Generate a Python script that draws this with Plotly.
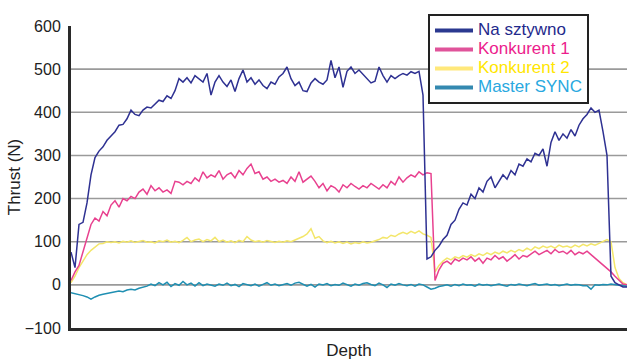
import plotly.graph_objects as go

# Depth index (sample positions along the bore)
DEPTH = list(range(0, 557, 4))

SERIES_NAMES = ["Na sztywno", "Konkurent 1", "Konkurent 2", "Master SYNC"]

NA_SZTYWNO = [
    76, 40, 140, 145, 190, 255, 295, 310, 320, 335,
    345, 355, 370, 372, 385, 405, 395, 392, 405, 412,
    410, 420, 428, 425, 438, 432, 450, 478, 470, 480,
    468, 485, 478, 470, 490, 440, 470, 485, 470, 460,
    475, 448, 478, 498, 470, 480, 465, 475, 462, 455,
    470, 465, 482, 490, 505, 478, 462, 470, 450, 448,
    468, 478, 470, 465, 475, 520, 480, 505, 458, 495,
    505, 490, 498, 488, 480, 468, 472, 505, 485, 470,
    485, 478, 485, 490, 486, 494, 490, 495, 440, 60,
    65, 80, 90, 105, 115, 140, 150, 175, 190, 185,
    210, 200, 225, 215, 240, 250, 225, 240, 255, 245,
    265, 255, 280, 275, 292, 285, 305, 300, 315, 275,
    330, 355, 335, 350, 340, 360, 345, 370, 385, 395,
    410, 400, 405, 355, 300, 20, 5, 0, -5, -5,
]

KONKURENT_1 = [
    10, 30, 45, 75, 108, 140, 155, 148, 170, 160,
    185, 195, 180, 200, 195, 205, 200, 215, 222, 210,
    230, 218, 225, 215, 220, 212, 240, 238, 232, 240,
    235, 248, 240, 262, 248, 255, 250, 265, 245, 255,
    260, 248, 265, 255, 270, 280, 258, 262, 245, 250,
    240, 245, 238, 242, 235, 250, 240, 262, 238, 245,
    252, 240, 225, 235, 218, 230, 225, 215, 232, 225,
    235, 228, 222, 230, 225, 235, 228, 222, 232, 225,
    240, 232, 250, 238, 248, 255, 250, 262, 255, 260,
    258, 10, 35, 50, 55, 48, 60, 55, 62, 58,
    65, 55, 62, 50, 62, 58, 68, 60, 65, 55,
    62, 70, 60, 68, 65, 72, 78, 70, 75, 80,
    72, 82, 75, 78, 72, 80, 70, 76, 72, 78,
    70, 62, 55, 45, 38, 30, 20, 10, 2, 0,
]

KONKURENT_2 = [
    5, 20, 40, 55, 70, 80, 88, 95, 96, 100,
    98, 100, 97, 101, 99, 102, 98, 100, 103, 99,
    100, 97, 102, 100, 104, 99, 101, 98, 103, 110,
    100, 104, 106, 100, 105, 102, 110, 100, 104, 99,
    102, 98, 103, 100, 112, 104, 100, 102, 99, 103,
    100, 98, 101, 99, 102, 100, 104, 108, 112, 118,
    130, 108, 112, 102, 98, 101, 97, 100, 96, 99,
    95, 98, 96, 100, 97, 99, 102, 105, 110, 108,
    115, 112, 118, 122, 118, 124, 120, 125, 118, 115,
    110, 30, 45, 55, 62, 58, 65, 62, 68, 64,
    70, 66, 72, 68, 74, 70, 76, 72, 78, 74,
    80, 76, 82, 78, 85, 80, 88, 84, 90, 86,
    90, 85, 92, 88, 90, 86, 92, 88, 94, 90,
    95, 92, 96, 100, 105, 100, 40, 15, 5, 0,
]

MASTER_SYNC = [
    -18, -20, -22, -25, -28, -33, -28, -24, -22, -20,
    -18, -17, -14, -16, -12, -10, -12, -8, -6, -3,
    2, -2, 5, 0, 6, -4, 3, -1, 8, 0,
    4, -3, 5, -2, 2, 0, -3, 2, -1, 4,
    -2, 1, -4, 3, 0, -2, 2, -3, 1, 5,
    -1, 2, -2, 0, 3, -1, 4, 6, 2, -3,
    1, -5, 2, 0, 3, -2, 1, -1, 4, 0,
    -3, 2, -1, 3, 5, 1, -2, 4, 0, -6,
    2, -1, 3, 0, -2, 1, -3, 2, 0, -5,
    -10, -8, -4, -2, 0, -3, 1, -2, 2, -1,
    0, -3, 2, -1, 1, -2, 0, 2, -1, -3,
    1, -1, 2, 0, -2, 1, 3, -1, 0, 2,
    -1, 1, -2, 0, 2, -1, 1, 0, -2, -2,
    -10, 0, -1, 1, 0, 2, 0, -1, -2, -3,
]

Y_TICKS = [-100, 0, 100, 200, 300, 400, 500, 600]
GRID_VALUES = [0, 100, 200, 300, 400, 500]

LINE_COLORS = {
    "Na sztywno": "#2E3192",
    "Konkurent 1": "#E8418F",
    "Konkurent 2": "#F3E66A",
    "Master SYNC": "#1F8FB2",
}
TEXT_COLORS = {
    "Na sztywno": "#1F2A8C",
    "Konkurent 1": "#EC1C8C",
    "Konkurent 2": "#FFE600",
    "Master SYNC": "#29A8E0",
}
LEGEND_SWATCH = {
    "Na sztywno": "#2B3990",
    "Konkurent 1": "#E0539A",
    "Konkurent 2": "#FFE87A",
    "Master SYNC": "#3489B0",
}

values = {
    "Na sztywno": NA_SZTYWNO,
    "Konkurent 1": KONKURENT_1,
    "Konkurent 2": KONKURENT_2,
    "Master SYNC": MASTER_SYNC,
}

FONT = "Arial, Liberation Sans, sans-serif"
W, H = 627, 360
M_L, M_B = 71, 32
PLOT_TOP_PX = 26
PAPER_H = H - M_B  # top margin is zero; the y domain leaves room above

fig = go.Figure()

# legend entries (thick swatches, coloured text)
for name in SERIES_NAMES:
    fig.add_trace(go.Scatter(
        x=[None], y=[None], mode="lines",
        name=f"<span style='color:{TEXT_COLORS[name]};font-size:17px'>{name}</span>",
        legendgroup=name,
        line=dict(color=LEGEND_SWATCH[name], width=4),
        hoverinfo="skip",
    ))

# data lines (drawn back to front)
for name in ["Konkurent 2", "Konkurent 1", "Master SYNC", "Na sztywno"]:
    fig.add_trace(go.Scatter(
        x=DEPTH, y=values[name], mode="lines", name=name,
        legendgroup=name, showlegend=False,
        line=dict(color=LINE_COLORS[name], width=1.5),
    ))

shapes = []
for g in GRID_VALUES:
    shapes.append(dict(
        type="line", xref="paper", yref="y", x0=0, x1=1, y0=g, y1=g,
        line=dict(color="#9A9A9A", width=1.6), layer="below",
    ))

fig.update_layout(
    width=W, height=H,
    margin=dict(l=M_L, r=0, t=0, b=M_B),
    paper_bgcolor="white", plot_bgcolor="white",
    font=dict(family=FONT, size=15, color="#222222"),
    shapes=shapes,
    showlegend=True,
    legend=dict(
        x=(428 - M_L) / (W - M_L), y=(PAPER_H - 14) / PAPER_H,
        xanchor="left", yanchor="top",
        bgcolor="white", bordercolor="#222222", borderwidth=2,
        font=dict(family=FONT, size=12),
        itemwidth=38, tracegroupgap=0,
        entrywidth=135, entrywidthmode="pixels",
    ),
    xaxis=dict(
        range=[0, 556], showticklabels=False, showgrid=False, zeroline=False,
        showline=True, linecolor="#2A2A2A", linewidth=3, ticks="",
        title=dict(text="Depth", font=dict(family=FONT, size=17, color="#222222"), standoff=16),
        automargin=False, fixedrange=True,
    ),
    yaxis=dict(
        domain=[0, (PAPER_H - PLOT_TOP_PX) / PAPER_H],
        range=[-100, 600], tickvals=Y_TICKS, showgrid=False, zeroline=False,
        showline=True, linecolor="#2A2A2A", linewidth=3, ticks="",
        ticklabelstandoff=4,
        tickfont=dict(family=FONT, size=16, color="#222222"),
        title=dict(text="Thrust (N)", font=dict(family=FONT, size=17, color="#222222"), standoff=0),
        automargin=False, fixedrange=True,
    ),
)

fig.write_html(
    "out.html",
    config={"displayModeBar": False},
    post_script="document.body.style.margin='0';",
)
